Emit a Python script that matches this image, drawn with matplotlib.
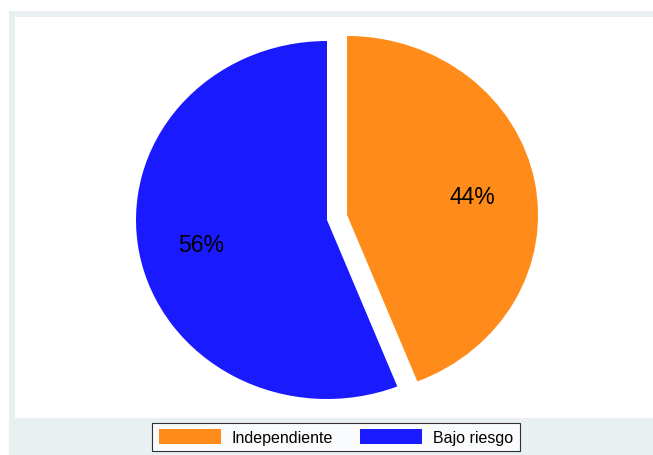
import matplotlib
matplotlib.use("Agg")
import matplotlib.pyplot as plt
from matplotlib.patches import Rectangle

plt.rcParams['font.family'] = ['Liberation Sans', 'DejaVu Sans']

categories = ["Independiente", "Bajo riesgo"]
shares = [44, 56]
colors = ["#FF8C1A", "#1A1AFF"]

W, H = 653, 456
fig = plt.figure(figsize=(W / 100, H / 100), dpi=100, facecolor="white")

def fx(px):
    return px / W

def fy(py):
    return 1 - py / H

# outer graph region (light blue-gray) and white plot region, kept behind the axes
fig.patches.append(Rectangle((fx(9), 0), 1 - fx(9), fy(12), transform=fig.transFigure,
                             facecolor="#E8F0F2", edgecolor="none", zorder=-10))
fig.patches.append(Rectangle((fx(15), fy(419)), 1 - fx(15), fy(18) - fy(419),
                             transform=fig.transFigure, facecolor="white",
                             edgecolor="none", zorder=-9))

# pie axes: ellipse spanning x 136..518, y 42..400 (pixels)
ax = fig.add_axes([fx(136), fy(400), fx(518) - fx(136), fy(42) - fy(400)])
ax.set_facecolor("none")
ax.set_zorder(1)
wedges, texts, autotexts = ax.pie(
    shares, colors=colors, startangle=90, counterclock=False,
    autopct=lambda p: f"{p:.0f}%", pctdistance=0.67,
    textprops=dict(fontsize=16.5, color="black"),
    wedgeprops=dict(linewidth=0), radius=1.0)
ax.set_aspect("auto")
ax.set_xlim(-1, 1)
ax.set_ylim(-1, 1)
ax.axis("off")

# pull the first slice out to the right
off = (0.105, 0.028)
wedges[0].set_center(off)
x, y = autotexts[0].get_position()
autotexts[0].set_position((x + off[0], y + off[1] - 0.02))
x, y = autotexts[1].get_position()
autotexts[1].set_position((x, y - 0.01))

leg = fig.legend(wedges, categories, loc="center",
                 bbox_to_anchor=(fx(336), fy(438)), ncol=2,
                 fontsize=11.5, frameon=True, fancybox=False,
                 edgecolor="black", handlelength=3.9, handleheight=1.05,
                 handletextpad=0.68, columnspacing=1.7, borderpad=0.4,
                 borderaxespad=0)
leg.get_frame().set_linewidth(0.8)
leg.get_frame().set_facecolor("white")
leg.set_zorder(2)

fig.savefig("out.png", dpi=100, facecolor="white")
